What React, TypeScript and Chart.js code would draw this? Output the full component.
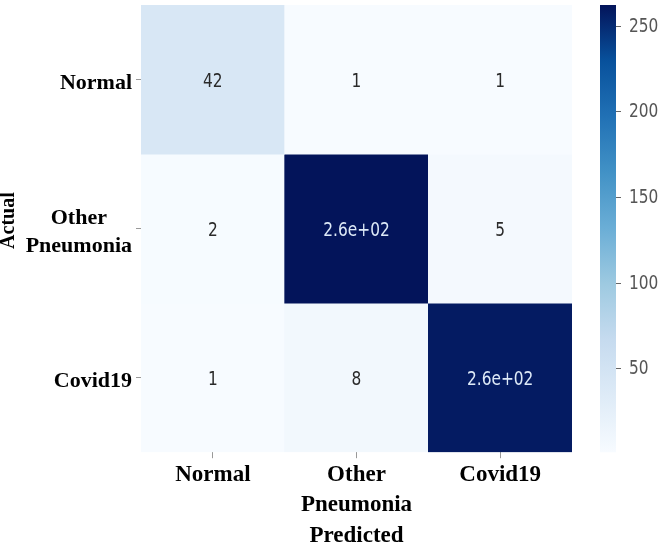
import React, { useEffect, useRef } from "react";
import { Chart, registerables } from "chart.js";

Chart.register(...registerables);

// ---- data ----
const categories: string[][] = [["Normal"], ["Other", "Pneumonia"], ["Covid19"]];
const rowNormal = [42, 1, 1];
const rowOtherPneumonia = [2, 262, 5];
const rowCovid19 = [1, 8, 258];
const matrixRows = [rowNormal, rowOtherPneumonia, rowCovid19];
const colorbarTicks = [50, 100, 150, 200, 250];
const xTitle = "Predicted";
const yTitle = "Actual";

const vMin = Math.min(...matrixRows.flat());
const vMax = Math.max(...matrixRows.flat());

// Blues colormap stops
const bluesStops: [number, string][] = [
  [0.0, "#f7fbff"],
  [0.125, "#deebf7"],
  [0.25, "#c6dbef"],
  [0.375, "#9ecae1"],
  [0.5, "#6baed6"],
  [0.625, "#4292c6"],
  [0.75, "#2171b5"],
  [0.875, "#08519c"],
  [1.0, "#03145a"],
];

function hexToRgb(h: string) {
  const n = parseInt(h.slice(1), 16);
  return [(n >> 16) & 255, (n >> 8) & 255, n & 255];
}
function blues(t: number) {
  t = Math.max(0, Math.min(1, t));
  for (let i = 0; i < bluesStops.length - 1; i++) {
    const [t0, c0] = bluesStops[i];
    const [t1, c1] = bluesStops[i + 1];
    if (t <= t1) {
      const f = (t - t0) / (t1 - t0);
      const a = hexToRgb(c0);
      const b = hexToRgb(c1);
      const c = a.map((v, k) => Math.round(v + (b[k] - v) * f));
      return `rgb(${c[0]},${c[1]},${c[2]})`;
    }
  }
  return bluesStops[bluesStops.length - 1][1];
}
function colorFor(v: number) {
  return blues((v - vMin) / (vMax - vMin));
}
function fmt(v: number) {
  // matplotlib '.2g'
  if (v === 0) return "0";
  const e = Math.floor(Math.log10(Math.abs(v)));
  if (e >= 2 || e < -4) {
    const s = v.toExponential(1);
    const [m, ex] = s.split("e");
    const sign = ex[0] === "-" ? "-" : "+";
    const d = ex.replace(/[+-]/, "").padStart(2, "0");
    return `${m}e${sign}${d}`;
  }
  return String(parseFloat(v.toPrecision(2)));
}

const SERIF = "'Liberation Serif', 'Times New Roman', serif";
const SANS = "'DejaVu Sans', sans-serif";
const SQUEEZE = 0.77;

const heatPlugin = {
  id: "heatExtras",
  afterDatasetsDraw(chart: any) {
    const ctx = chart.ctx as CanvasRenderingContext2D;
    const area = chart.chartArea;
    // cell annotations
    ctx.save();
    ctx.font = `20px ${SANS}`;
    ctx.textAlign = "center";
    ctx.textBaseline = "middle";
    matrixRows.forEach((row, i) => {
      const meta = chart.getDatasetMeta(i);
      row.forEach((v, j) => {
        const el = meta.data[j];
        const cx = el.x;
        const cy = (el.y + el.base) / 2;
        const t = (v - vMin) / (vMax - vMin);
        ctx.fillStyle = t > 0.5 ? "#dde9f7" : "#2a2a2a";
        ctx.save();
        ctx.translate(cx, cy + 2);
        ctx.scale(SQUEEZE, 1);
        ctx.fillText(fmt(v), 0, 0);
        ctx.restore();
      });
    });
    ctx.restore();

    // y labels (right-aligned block, lines centered)
    const yScale = chart.scales.y;
    ctx.save();
    ctx.fillStyle = "#000";
    ctx.font = `bold 22px ${SERIF}`;
    ctx.textAlign = "center";
    ctx.textBaseline = "middle";
    const rightEdge = area.left - 9;
    const lh = 28;
    categories.forEach((lines, i) => {
      const py = yScale.getPixelForValue(i + 0.5) + 4;
      const w = Math.max(...lines.map((l) => ctx.measureText(l).width));
      const cx = rightEdge - w / 2;
      const y0 = py - ((lines.length - 1) * lh) / 2;
      lines.forEach((l, k) => ctx.fillText(l, cx, y0 + k * lh));
    });
    // y title
    ctx.font = `bold 20px ${SERIF}`;
    ctx.translate(9, (area.top + area.bottom) / 2 - 8);
    ctx.rotate(-Math.PI / 2);
    ctx.fillText(yTitle, 0, 0);
    ctx.restore();

    // colorbar
    const cb = chart.scales.cb;
    const top = cb.getPixelForValue(vMax);
    const bottom = cb.getPixelForValue(vMin);
    const x0 = area.right + 28;
    const w = 16;
    const grad = ctx.createLinearGradient(0, bottom, 0, top);
    bluesStops.forEach(([t, c]) => grad.addColorStop(t, c));
    ctx.save();
    ctx.fillStyle = grad;
    ctx.fillRect(x0, top, w, bottom - top);
    ctx.strokeStyle = "#666";
    ctx.lineWidth = 1;
    ctx.fillStyle = "#555";
    ctx.font = `20px ${SANS}`;
    ctx.textAlign = "left";
    ctx.textBaseline = "middle";
    colorbarTicks.forEach((t) => {
      const py = Math.round(cb.getPixelForValue(t)) + 0.5;
      ctx.beginPath();
      ctx.moveTo(x0 + w, py);
      ctx.lineTo(x0 + w + 5, py);
      ctx.stroke();
      ctx.save();
      ctx.translate(x0 + w + 13, py);
      ctx.scale(SQUEEZE, 1);
      ctx.fillText(String(t), 0, 0);
      ctx.restore();
    });
    ctx.restore();
  },
};

export default function App() {
  const ref = useRef<HTMLCanvasElement | null>(null);
  useEffect(() => {
    document.body.style.margin = "0";
    const canvas = ref.current;
    if (!canvas) return;
    const datasets = matrixRows.map((row, i) => ({
      label: categories[i].join(" "),
      data: row.map(() => [i, i + 1] as [number, number]),
      backgroundColor: row.map((v) => colorFor(v)),
      borderWidth: 0,
      borderSkipped: false,
      barPercentage: 1,
      categoryPercentage: 1,
      yAxisID: "y",
    }));
    const chart = new Chart(canvas, {
      type: "bar",
      data: { labels: categories, datasets: datasets as any },
      options: {
        animation: false,
        responsive: true,
        maintainAspectRatio: false,
        events: [],
        layout: { padding: { left: 136, right: 94, top: 5, bottom: 0 } },
        plugins: { legend: { display: false }, tooltip: { enabled: false } },
        scales: {
          x: {
            type: "category",
            stacked: true,
            offset: true,
            border: { display: false },
            grid: {
              display: true,
              drawOnChartArea: false,
              offset: false,
              drawTicks: true,
              tickLength: 6,
              color: "#999",
            },
            ticks: {
              color: "#000",
              padding: 2,
              maxRotation: 0,
              autoSkip: false,
              font: { family: SERIF, size: 23, weight: "bold", lineHeight: 1.3 },
            },
            title: {
              display: true,
              text: xTitle,
              color: "#000",
              padding: { top: 3, bottom: 0 },
              font: { family: SERIF, size: 23, weight: "bold", lineHeight: 1.0 },
            },
          },
          y: {
            type: "linear",
            min: 0,
            max: 3,
            reverse: true,
            stacked: false,
            border: { display: false },
            afterBuildTicks: (scale: any) => {
              scale.ticks = categories.map((_, i) => ({ value: i + 0.5 }));
            },
            grid: {
              display: true,
              drawOnChartArea: false,
              drawTicks: true,
              tickLength: 5,
              color: "#999",
            },
            ticks: { display: false },
          },
          cb: {
            type: "linear",
            display: false,
            position: "right",
            min: vMin,
            max: vMax,
          },
        },
      },
      plugins: [heatPlugin],
    });
    return () => chart.destroy();
  }, []);
  return (
    <div style={{ width: 666, height: 548, position: "relative", background: "#fff" }}>
      <canvas ref={ref} />
    </div>
  );
}
